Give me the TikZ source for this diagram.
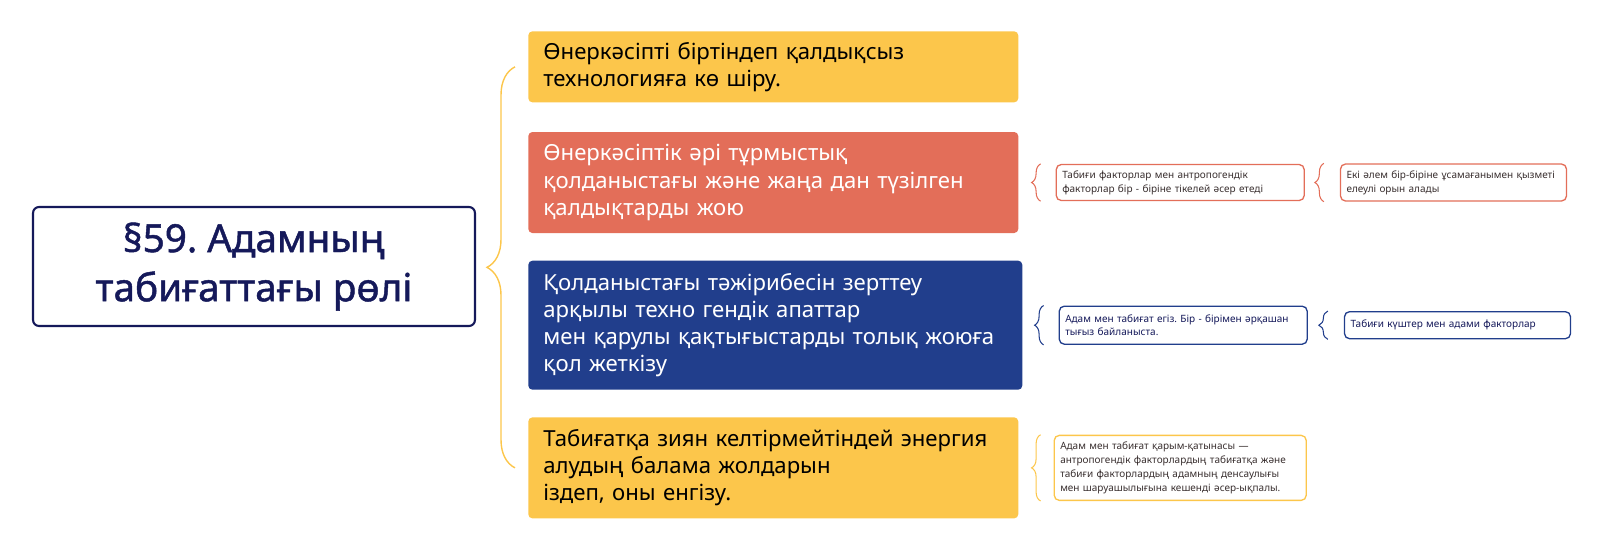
\documentclass[tikz,border=0pt]{standalone}
\usepackage{fontspec}
\setmainfont{Noto Sans}
\newfontfamily\headfont[FakeBold=1.2]{Noto Sans}
\usetikzlibrary{positioning,decorations.pathreplacing}
\frenchspacing

\definecolor{sunyellow}{HTML}{FCC64B}
\definecolor{coral}{HTML}{E36E59}
\definecolor{deepblue}{HTML}{213E8C}
\definecolor{inkblue}{HTML}{15195A}
\definecolor{notegray}{HTML}{3A3030}

\begin{document}
\begin{tikzpicture}[x=0.02cm,y=-0.02cm,
    every node/.style={inner sep=0pt},
    title/.style={draw=inkblue,line width=1.2pt,rounded corners=0.12cm,fill=white,
      minimum width=8.84cm,minimum height=2.38cm,align=center,text=inkblue,
      font=\headfont\fontsize{22}{28}\selectfont},
    topic/.style={rounded corners=0.08cm,inner xsep=0.3cm,minimum width=9.8cm,
      text width=9.2cm,align=left,font=\fontsize{12.6}{15.5}\selectfont},
    note/.style={draw,line width=0.75pt,rounded corners=0.1cm,fill=white,
      inner xsep=0.12cm,align=left,text=notegray,font=\fontsize{5.7}{7.9}\selectfont},
    bigbrace/.style={decorate,decoration={brace,amplitude=0.56cm},
      line width=0.8pt,draw=sunyellow},
    smallbrace/.style={decorate,decoration={brace,amplitude=0.18cm},line width=0.6pt}]

  \path[use as bounding box] (0,0) rectangle (1600,560);

  % main theme
  \node[title] (theme) at (254,266.5) {§59. Адамның\\табиғаттағы рөлі};

  % four measures
  \node[topic,fill=sunyellow,minimum height=1.42cm,anchor=north west] (waste) at (528,31)
    {Өнеркәсіпті біртіндеп қалдықсыз\\технологияға кө шіру.};
  \node[topic,fill=coral,text=white,minimum height=2.02cm,
    below=0.58cm of waste.south west,anchor=north west] (burn)
    {Өнеркәсіптік әрі тұрмыстық\\қолданыстағы және жаңа дан түзілген\\қалдықтарды жою};
  \node[topic,fill=deepblue,text=white,minimum height=2.58cm,minimum width=9.88cm,
    text width=9.28cm,below=0.54cm of burn.south west,anchor=north west] (study)
    {Қолданыстағы тәжірибесін зерттеу\\арқылы техно гендік апаттар\\мен қарулы қақтығыстарды толық жоюға\\қол жеткізу};
  \node[topic,fill=sunyellow,minimum height=2.02cm,
    below=0.54cm of study.south west,anchor=north west] (energy)
    {Табиғатқа зиян келтірмейтіндей энергия\\алудың балама жолдарын\\іздеп, оны енгізу.};

  % notes
  \node[note,draw=coral,right=0.74cm of burn,text width=4.72cm,minimum height=0.72cm] (factors)
    {Табиғи факторлар мен антропогендік\\факторлар бір - біріне тікелей әсер етеді};
  \node[note,draw=coral,right=0.7cm of factors,text width=4.28cm,minimum height=0.74cm] (worlds)
    {Екі әлем бір-біріне ұсамағанымен қызметі\\елеулі орын алады};
  \node[note,draw=deepblue,text=inkblue,right=0.72cm of study,text width=4.72cm,
    minimum height=0.76cm] (twins)
    {Адам мен табиғат егіз. Бір - бірімен әрқашан\\тығыз байланыста.};
  \node[note,draw=deepblue,text=inkblue,right=0.72cm of twins,text width=4.28cm,
    minimum height=0.54cm] (forces)
    {Табиғи күштер мен адами факторлар};
  \node[note,draw=sunyellow,right=0.7cm of energy,text width=4.8cm,minimum height=1.3cm] (impact)
    {Адам мен табиғат қарым-қатынасы —\\антропогендік факторлардың табиғатқа және\\табиғи факторлардың адамның денсаулығы\\мен шаруашылығына кешенді әсер-ықпалы.};

  % braces
  \draw[bigbrace] ([xshift=-0.26cm]energy.west) -- ([xshift=-0.26cm]waste.west);
  \draw[smallbrace,coral] ([xshift=-0.3cm]factors.south west) -- ([xshift=-0.3cm]factors.north west);
  \draw[smallbrace,coral] ([xshift=-0.32cm]worlds.south west) -- ([xshift=-0.32cm]worlds.north west);
  \draw[smallbrace,deepblue] ([xshift=-0.3cm]twins.south west) -- ([xshift=-0.3cm]twins.north west);
  \draw[smallbrace,deepblue] ([xshift=-0.32cm]forces.south west) -- ([xshift=-0.32cm]forces.north west);
  \draw[smallbrace,sunyellow] ([xshift=-0.26cm]impact.south west) -- ([xshift=-0.26cm]impact.north west);
\end{tikzpicture}
\end{document}
